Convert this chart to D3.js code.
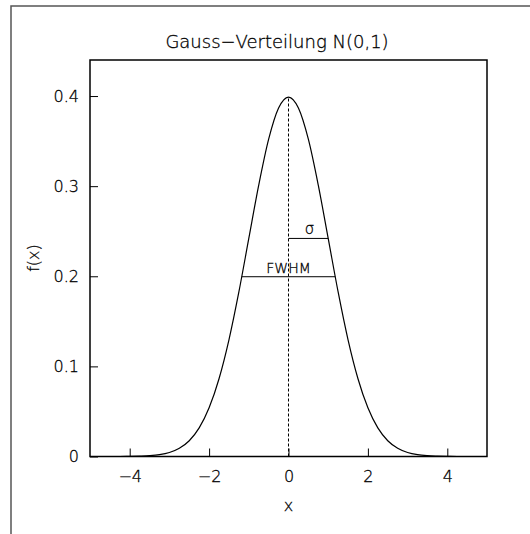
<!DOCTYPE html>
<html>
<head>
<meta charset="utf-8">
<script src="https://cdn.jsdelivr.net/npm/d3@7"></script>
<style>
  body { margin: 0; background: #fff; }
  text { font-family: "DejaVu Sans", "Liberation Sans", sans-serif; font-weight: 200; fill: #000; stroke: #000; stroke-width: 0.3; }
</style>
</head>
<body>
<svg id="chart" width="530" height="534"></svg>
<script>
// curve values
var xValues = [-5, -4.75, -4.5, -4.25, -4, -3.75, -3.5, -3.25, -3, -2.75, -2.5, -2.25, -2, -1.75, -1.5, -1.25, -1, -0.75, -0.5, -0.25,
  0, 0.25, 0.5, 0.75, 1, 1.25, 1.5, 1.75, 2, 2.25, 2.5, 2.75, 3, 3.25, 3.5, 3.75, 4, 4.25, 4.5, 4.75, 5];
var yValues = [0, 0, 0, 0, 0.0001, 0.0004, 0.0009, 0.0020, 0.0044, 0.0091, 0.0175, 0.0317, 0.0540, 0.0863, 0.1295, 0.1826, 0.2420, 0.3011, 0.3521, 0.3867,
  0.3989, 0.3867, 0.3521, 0.3011, 0.2420, 0.1826, 0.1295, 0.0863, 0.0540, 0.0317, 0.0175, 0.0091, 0.0044, 0.0020, 0.0009, 0.0004, 0.0001, 0, 0, 0, 0];
var xTicks = [-4, -2, 0, 2, 4];
var yTicks = [0, 0.1, 0.2, 0.3, 0.4];
var yTickLabels = ["0", "0.1", "0.2", "0.3", "0.4"];

// annotation values
var peak = 0.3989;
var sigma = 1;
var sigmaHeight = 0.2420;
var halfWidth = 1.1774;
var halfMax = 0.1995;

var svg = d3.select("#chart");

var x = d3.scaleLinear().domain([-5, 5]).range([90, 487]);
var y = d3.scaleLinear().domain([0, 0.44]).range([456.5, 60]);

// outer frame (top and left only)
svg.append("path")
  .attr("d", "M11,534 L11,6 L530,6")
  .attr("fill", "none")
  .attr("stroke", "#555")
  .attr("stroke-width", 1.5);

// plot box
svg.append("rect")
  .attr("x", x(-5)).attr("y", y(0.44))
  .attr("width", x(5) - x(-5)).attr("height", y(0) - y(0.44))
  .attr("fill", "none").attr("stroke", "#000").attr("stroke-width", 1.5);

// x axis ticks pointing inside
var xAxis = svg.append("g")
  .attr("transform", "translate(0," + y(0) + ")")
  .call(d3.axisBottom(x).tickValues(xTicks).tickSizeInner(-8).tickSizeOuter(0)
    .tickPadding(14).tickFormat(d => d < 0 ? "\u2212" + Math.abs(d) : d));
xAxis.select(".domain").remove();
xAxis.selectAll("line").attr("stroke", "#000");
xAxis.selectAll("text").attr("font-size", 16).attr("font-family", null).attr("fill", null);

var yAxis = svg.append("g")
  .attr("transform", "translate(" + x(-5) + ",0)")
  .call(d3.axisLeft(y).tickValues(yTicks).tickSizeInner(-8).tickSizeOuter(0)
    .tickPadding(11).tickFormat((d, i) => yTickLabels[i]));
yAxis.select(".domain").remove();
yAxis.selectAll("line").attr("stroke", "#000");
yAxis.selectAll("text").attr("font-size", 16).attr("font-family", null).attr("fill", null);

// dashed centre line
svg.append("line")
  .attr("x1", x(0)).attr("x2", x(0))
  .attr("y1", y(0)).attr("y2", y(peak))
  .attr("stroke", "#000").attr("stroke-dasharray", "3,2");

// curve
var line = d3.line()
  .x((d, i) => x(xValues[i]))
  .y(d => y(d))
  .curve(d3.curveMonotoneX);

svg.append("path")
  .datum(yValues)
  .attr("d", line)
  .attr("fill", "none")
  .attr("stroke", "#000")
  .attr("stroke-width", 1.2);

// sigma marker
svg.append("line")
  .attr("x1", x(0)).attr("x2", x(sigma))
  .attr("y1", y(sigmaHeight)).attr("y2", y(sigmaHeight))
  .attr("stroke", "#000");
svg.append("text")
  .attr("x", x(0.53)).attr("y", y(sigmaHeight) - 4)
  .attr("text-anchor", "middle").attr("font-size", 15)
  .text("\u03c3");

// FWHM marker
svg.append("line")
  .attr("x1", x(-halfWidth)).attr("x2", x(halfWidth))
  .attr("y1", y(halfMax)).attr("y2", y(halfMax))
  .attr("stroke", "#000");
svg.append("text")
  .attr("x", x(0)).attr("y", y(halfMax) - 4)
  .attr("text-anchor", "middle").attr("font-size", 14)
  .text("FWHM");

// titles
svg.append("text")
  .attr("x", 277).attr("y", 48)
  .attr("text-anchor", "middle").attr("font-size", 18)
  .text("Gauss\u2212Verteilung N(0,1)");

svg.append("text")
  .attr("x", x(0)).attr("y", 511)
  .attr("text-anchor", "middle").attr("font-size", 16)
  .text("x");

svg.append("text")
  .attr("transform", "translate(39,258) rotate(-90)")
  .attr("text-anchor", "middle").attr("font-size", 16)
  .text("f(x)");
</script>
</body>
</html>
